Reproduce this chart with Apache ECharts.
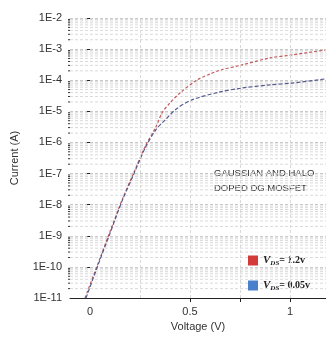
<!DOCTYPE html>
<html>
<head>
<meta charset="utf-8">
<script src="https://cdn.jsdelivr.net/npm/echarts@6/dist/echarts.min.js"></script>
<style>html,body{margin:0;padding:0;background:#fff}#c{width:326px;height:341px}</style>
</head>
<body>
<div id="c"></div>
<script>
// Data
const voltageHigh = [-0.025, 0.05, 0.10, 0.16, 0.22, 0.275, 0.33, 0.36, 0.40, 0.45, 0.535, 0.60, 0.65, 0.76, 0.90, 1.01, 1.175];
const currentHigh = [1.0e-11, 1.9e-10, 1.35e-9, 1.4e-8, 1.1e-7, 7.2e-7, 3.2e-6, 8.9e-6, 1.86e-5, 3.9e-5, 1.02e-4, 1.58e-4, 2.1e-4, 3.1e-4, 5.2e-4, 6.5e-4, 9.3e-4];
const voltageLow = [-0.02, 0.05, 0.10, 0.16, 0.22, 0.275, 0.33, 0.375, 0.43, 0.51, 0.65, 0.76, 0.90, 1.01, 1.175];
const currentLow = [1.0e-11, 1.7e-10, 1.2e-9, 1.3e-8, 1.0e-7, 6.5e-7, 2.6e-6, 5.2e-6, 1.17e-5, 2.34e-5, 4.2e-5, 5.6e-5, 7.1e-5, 8.1e-5, 1.1e-4];
const xLabelValues = [0, 0.5, 1];
const xTickValues = [0.5, 0.75, 1];
const xGridValues = [0.25, 0.5, 0.75, 1];
const seriesNames = ['hi', 'lo'];

const X_MIN = -0.1, X_MAX = 1.18, Y_MIN = 1e-11, Y_MAX = 1e-2;
const minorY = [];
for (let e = -11; e < -2; e++) {
  for (let k = 2; k <= 9; k++) minorY.push([k * Math.pow(10, e)]);
}
const pair = (xs, ys) => xs.map((x, i) => [x, ys[i]]);

const chart = echarts.init(document.getElementById('c'));
chart.setOption({
  animation: false,
  grid: { left: 70, right: 0, top: 18, bottom: 43 },
  xAxis: {
    type: 'value', min: X_MIN, max: X_MAX,
    name: 'Voltage (V)', nameLocation: 'middle', nameGap: 22,
    nameTextStyle: { fontSize: 11, color: '#333', fontFamily: 'Liberation Sans' },
    axisLine: { lineStyle: { color: '#222', width: 1 } },
    axisTick: { customValues: xTickValues, length: 4, lineStyle: { color: '#222' } },
    axisLabel: { customValues: xLabelValues, fontSize: 11, color: '#333', fontFamily: 'Liberation Sans',
      formatter: v => String(v) },
    splitLine: { show: false }
  },
  yAxis: {
    type: 'log', min: Y_MIN, max: Y_MAX, logBase: 10,
    name: 'Current (A)', nameLocation: 'middle', nameGap: 50,
    nameTextStyle: { fontSize: 11, color: '#333', fontFamily: 'Liberation Sans' },
    axisLine: { show: false },
    axisTick: { show: true, length: 3, lineStyle: { color: '#222' } },
    axisLabel: { fontSize: 11, color: '#333', fontFamily: 'Liberation Sans', margin: 8,
      formatter: v => '1E' + Math.round(Math.log10(v)) },
    splitLine: { show: true, lineStyle: { color: '#c8c8c8', type: [3, 2], width: 1.2 } }
  },
  legend: {
    orient: 'vertical', left: 243, top: 250, itemGap: 13,
    itemWidth: 10, itemHeight: 10, icon: 'rect',
    data: [
      { name: 'hi', itemStyle: { color: '#d33b3b' } },
      { name: 'lo', itemStyle: { color: '#4a7fcb' } }
    ],
    formatter: n => n === 'hi' ? '{v|V}{s|DS}{t|= 1.2v}' : '{v|V}{s|DS}{t|= 0.05v}',
    textStyle: {
      rich: {
        v: { fontFamily: 'Liberation Serif', fontStyle: 'italic', fontWeight: 'bold', fontSize: 11, color: '#222' },
        s: { fontFamily: 'Liberation Serif', fontStyle: 'italic', fontWeight: 'bold', fontSize: 7, color: '#222', verticalAlign: 'bottom', padding: [6, 0, 0, 0] },
        t: { fontFamily: 'Liberation Serif', fontWeight: 'bold', fontSize: 10, color: '#222' }
      }
    }
  },
  graphic: [
    { type: 'text', left: 214, top: 168, style: { text: 'GAUSSIAN AND HALO', fontSize: 9.5, fill: '#333', fontFamily: 'Liberation Sans' } },
    { type: 'text', left: 214, top: 183, style: { text: 'DOPED DG MOSFET', fontSize: 9.5, fill: '#333', fontFamily: 'Liberation Sans' } }
  ],
  series: [
    {
      name: 'minorGrid', type: 'custom', silent: true, z: 1,
      data: minorY,
      encode: { y: 0 },
      renderItem: (params, api) => {
        const v = api.value(0);
        const p1 = api.coord([X_MIN, v]);
        const p2 = api.coord([X_MAX, v]);
        const tick1 = p1[0] - 2;
        return {
          type: 'group',
          children: [
            { type: 'line', shape: { x1: p1[0], y1: p1[1], x2: p2[0], y2: p2[1] },
              style: { stroke: '#dadada', lineWidth: 1, lineDash: [3, 2] } },
            { type: 'line', shape: { x1: tick1, y1: p1[1], x2: p1[0], y2: p1[1] },
              style: { stroke: '#333', lineWidth: 1 } }
          ]
        };
      }
    },
    {
      name: seriesNames[0], type: 'line', smooth: 0.3, showSymbol: false,
      data: pair(voltageHigh, currentHigh),
      itemStyle: { color: '#d33b3b' },
      lineStyle: { color: '#c25a5e', width: 1.2, type: [3, 2] },
      markLine: {
        silent: true, symbol: 'none', label: { show: false },
        lineStyle: { color: '#d9d9d9', type: [3, 2], width: 1 },
        emphasis: { disabled: true },
        data: xGridValues.map(v => ({ xAxis: v }))
      },
      z: 3
    },
    {
      name: seriesNames[1], type: 'line', smooth: 0.3, showSymbol: false,
      data: pair(voltageLow, currentLow),
      itemStyle: { color: '#4a7fcb' },
      lineStyle: { color: '#545a8c', width: 1.2, type: [4, 2] },
      z: 3
    }
  ]
});
</script>
</body>
</html>
